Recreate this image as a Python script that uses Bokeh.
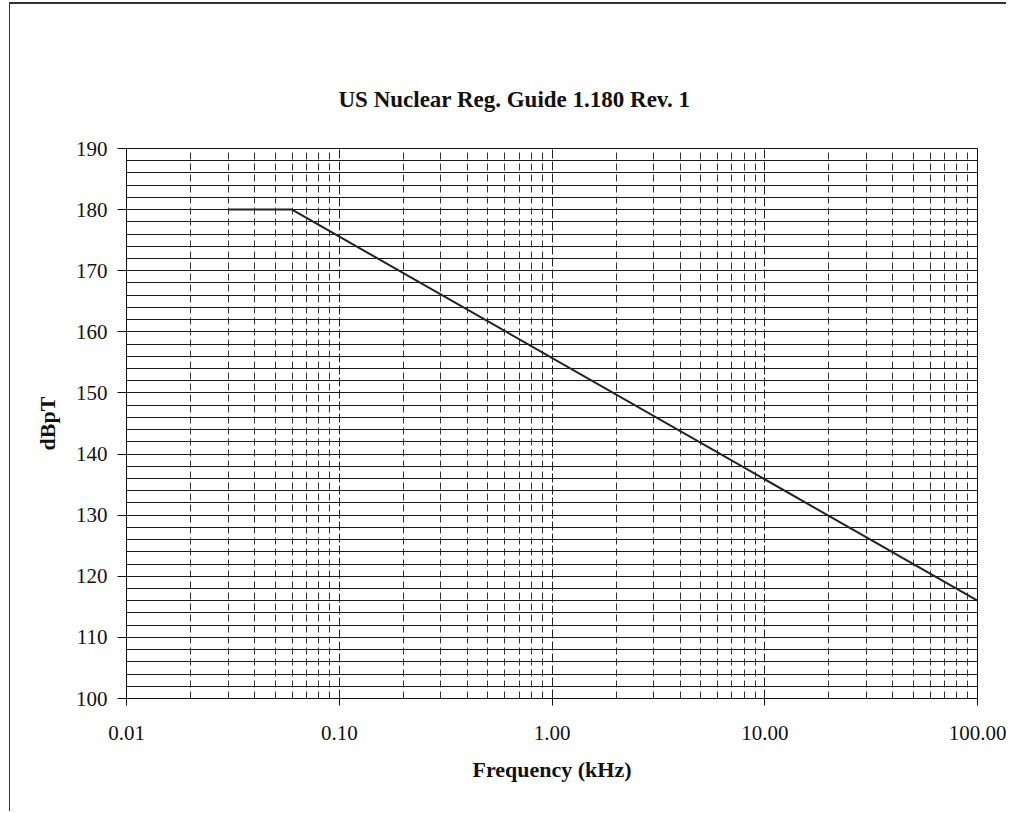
from bokeh.plotting import figure
from bokeh.models import FixedTicker, SingleIntervalTicker, NumeralTickFormatter, Range1d
from bokeh.embed import file_html
from bokeh.resources import INLINE

# Data (RE101-type limit)
freq_khz = [0.03, 0.06, 100.0]
level_dbpt = [180.0, 180.0, 116.0]

x_ticks = [0.01, 0.1, 1.0, 10.0, 100.0]
y_ticks = [100, 110, 120, 130, 140, 150, 160, 170, 180, 190]

title_text = "US Nuclear Reg. Guide 1.180 Rev. 1"
x_label = "Frequency (kHz)"
y_label = "dBpT"

FONT = "Liberation Serif"

p = figure(width=997, height=809, x_axis_type="log",
           x_range=Range1d(0.01, 100), y_range=Range1d(100, 190),
           output_backend="svg", toolbar_location=None,
           min_border_left=116, min_border_right=30,
           min_border_top=144, min_border_bottom=115)

p.background_fill_color = "white"
p.border_fill_color = "white"
p.outline_line_color = "#111111"
p.outline_line_width = 1

# Title
p.title.text = title_text
p.title.align = "left"
p.title.offset = 212
p.title.standoff = 73
p.title.text_font = FONT
p.title.text_font_size = "23px"
p.title.text_font_style = "bold"
p.title.text_color = "#111111"

# Minor x positions for the grid (2..9 within each decade)
minor_x = [m * d for d in [0.01, 0.1, 1.0, 10.0] for m in range(2, 10)]

xa = p.xaxis[0]
xa.ticker = FixedTicker(ticks=x_ticks, minor_ticks=minor_x)
xa.formatter = NumeralTickFormatter(format="0.00")
xa.axis_label = x_label
xa.axis_label_text_font = FONT
xa.axis_label_text_font_size = "22px"
xa.axis_label_text_font_style = "bold"
xa.axis_label_text_color = "#111111"
xa.axis_label_standoff = 14
xa.major_label_text_font = FONT
xa.major_label_text_font_size = "21px"
xa.major_label_text_color = "#111111"
xa.major_label_standoff = 20
xa.major_tick_in = 0
xa.major_tick_out = 7
xa.minor_tick_line_color = None
xa.axis_line_color = "#111111"
xa.major_tick_line_color = "#111111"

ya = p.yaxis[0]
ya.ticker = SingleIntervalTicker(interval=10, num_minor_ticks=5)
ya.axis_label = y_label
ya.axis_label_text_font = FONT
ya.axis_label_text_font_size = "22px"
ya.axis_label_text_font_style = "bold"
ya.axis_label_text_color = "#111111"
ya.axis_label_standoff = 13
ya.major_label_text_font = FONT
ya.major_label_text_font_size = "21px"
ya.major_label_text_color = "#111111"
ya.major_label_standoff = 10
ya.major_tick_in = 0
ya.major_tick_out = 9
ya.minor_tick_line_color = None
ya.axis_line_color = "#111111"
ya.major_tick_line_color = "#111111"

# Grids
p.ygrid.grid_line_color = "#1a1a1a"
p.ygrid.grid_line_width = 1
p.ygrid.grid_line_alpha = 1.0
p.ygrid.minor_grid_line_color = "#1a1a1a"
p.ygrid.minor_grid_line_width = 1

p.xgrid.grid_line_color = "#222222"
p.xgrid.grid_line_width = 1
p.xgrid.grid_line_dash = "9 3"
p.xgrid.grid_line_alpha = 1.0
p.xgrid.minor_grid_line_color = "#333333"
p.xgrid.minor_grid_line_width = 1
p.xgrid.minor_grid_line_dash = "7 4"

# Limit line
p.line(freq_khz, level_dbpt, line_color="#222222", line_width=2)

p.styles = {"margin-left": "9px", "margin-top": "2px",
            "border-left": "1px solid #333333", "border-top": "2px solid #333333"}

open("out.html", "w").write(file_html(p, INLINE))
